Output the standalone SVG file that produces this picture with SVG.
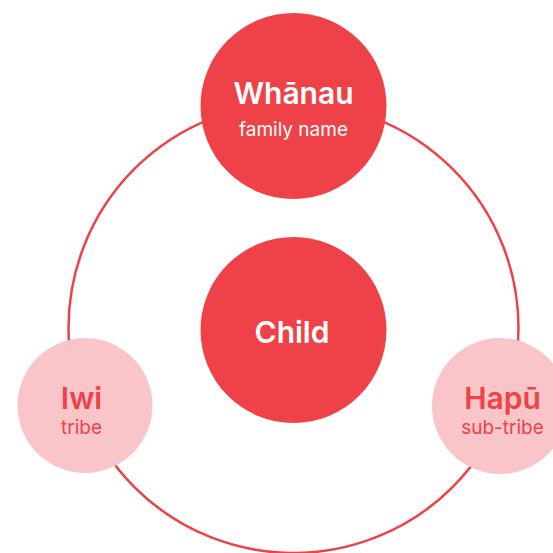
<svg xmlns="http://www.w3.org/2000/svg" width="553" height="553" viewBox="0 0 553 553">
<style>
.ring{fill:none;stroke:#EF4148;stroke-width:2.5}
.main{fill:#EF4248}
.side{fill:#FAC5C8}
text{font-family:Inter,"Open Sans","Liberation Sans",sans-serif;text-anchor:middle}
.t{font-weight:600;font-size:30px}
.s{font-size:19px}
.w{fill:#FFFFFF}
.r{fill:#EF4248}
</style>
<rect width="553" height="553" fill="#FFFFFF"/>
<g id="connectors">
<circle class="ring" cx="293.5" cy="328" r="225"/>
</g>
<g id="whanau">
<circle class="main" cx="293.5" cy="106" r="93"/>
<text class="t w" x="293.5" y="104">Whānau</text>
<text class="s w" x="293.5" y="136">family name</text>
</g>
<g id="child">
<circle class="main" cx="293.5" cy="330" r="93"/>
<text class="t w" x="292" y="343">Child</text>
</g>
<g id="iwi">
<circle class="side" cx="85" cy="405.5" r="67.5"/>
<text class="t r" x="81.5" y="409">Iwi</text>
<text class="s r" x="81.5" y="434">tribe</text>
</g>
<g id="hapu">
<circle class="side" cx="500" cy="406" r="68"/>
<text class="t r" x="502.5" y="409">Hapū</text>
<text class="s r" x="502.5" y="434">sub-tribe</text>
</g>
</svg>
